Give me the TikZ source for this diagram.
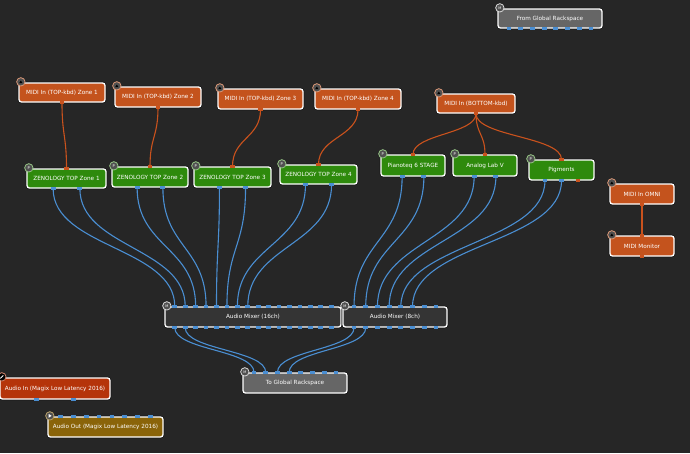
\documentclass[tikz,border=0pt]{standalone}
\usepackage{fontspec}
\setmainfont{DejaVu Sans}
\usetikzlibrary{calc}
\definecolor{bgC}{HTML}{262626}
\definecolor{midiC}{HTML}{C4531D}
\definecolor{plugC}{HTML}{2E8A0C}
\definecolor{grayC}{HTML}{666666}
\definecolor{mixC}{HTML}{343434}
\definecolor{ainC}{HTML}{B5340A}
\definecolor{aoutC}{HTML}{8A6409}
\definecolor{wireB}{HTML}{4A8ED2}
\definecolor{wireO}{HTML}{C9521D}
\definecolor{iconC}{HTML}{505050}

\newcommand\pinrow[4]{% node, north/south, n, colour
  \foreach \i in {1,...,#3}{%
    \pgfmathsetmacro\ff{\i/(#3+1)}%
    \fill[#4] ($(#1.#2 west)!\ff!(#1.#2 east)$) ++(-2.4,-1.2) rectangle ++(4.8,2.4);
  }}
\newcommand\wire[7]{% style, src, i, n, dst, j, m
  \pgfmathsetmacro\fa{#3/(#4+1)}%
  \pgfmathsetmacro\fb{#6/(#7+1)}%
  \draw[#1] let \p1=($(#2.south west)!\fa!(#2.south east)$),
                \p2=($(#5.north west)!\fb!(#5.north east)$),
                \n1={0.5*(\y1-\y2)} in
    (\p1) .. controls ($(\p1)-(0pt,\n1)$) and ($(\p2)+(0pt,\n1)$) .. (\p2);}
\newcommand\icon[3]{% node, fill, border
  \filldraw[fill=#2,draw=#3,line width=0.8pt] ([shift={(2.5,-0.5)}]#1.north west) circle (4.2pt);}

\begin{document}
\begin{tikzpicture}[x=1pt,y=-1pt,
  box/.style={rectangle, rounded corners=2.5pt, draw=white, line width=1.3pt,
    text=white, font=\fontsize{5.7}{6}\selectfont, inner sep=0pt, minimum height=20pt,
    preaction={draw=black!90, line width=2.8pt}},
  midibox/.style={box, fill=midiC},
  plugbox/.style={box, fill=plugC},
  graybox/.style={box, fill=grayC},
  mixbox/.style={box, fill=mixC},
  bwire/.style={draw=wireB, line width=1.1pt},
  owire/.style={draw=wireO, line width=1.1pt}]
\fill[bgC] (0,0) rectangle (690,453);
\useasboundingbox (0,0) rectangle (690,453);

% nodes
\node[graybox, minimum width=104pt, minimum height=19pt] (fromG) at (550,18.5) {From Global Rackspace};
\node[midibox, minimum width=86pt, minimum height=19pt] (m1) at (62,92.5) {MIDI In (TOP-kbd) Zone 1};
\node[midibox, minimum width=86pt] (m2) at (158,97) {MIDI In (TOP-kbd) Zone 2};
\node[midibox, minimum width=85pt] (m3) at (260.5,99) {MIDI In (TOP-kbd) Zone 3};
\node[midibox, minimum width=86pt] (m4) at (358,99) {MIDI In (TOP-kbd) Zone 4};
\node[midibox, minimum width=78pt, minimum height=19pt] (mb) at (476,103.5) {MIDI In (BOTTOM-kbd)};
\node[plugbox, minimum width=79pt, minimum height=19pt] (z1) at (66.5,178.5) {ZENOLOGY TOP Zone 1};
\node[plugbox, minimum width=76pt] (z2) at (150,177) {ZENOLOGY TOP Zone 2};
\node[plugbox, minimum width=77pt] (z3) at (232.5,177) {ZENOLOGY TOP Zone 3};
\node[plugbox, minimum width=77pt, minimum height=19pt] (z4) at (318.5,174.5) {ZENOLOGY TOP Zone 4};
\node[plugbox, minimum width=64pt, minimum height=21pt] (piano) at (413,165.5) {Pianoteq 6 STAGE};
\node[plugbox, minimum width=64pt, minimum height=21pt] (alab) at (485,165.5) {Analog Lab V};
\node[plugbox, minimum width=65pt] (pig) at (561.5,170) {Pigments};
\node[midibox, minimum width=64pt] (omni) at (642,194) {MIDI In OMNI};
\node[midibox, minimum width=64pt] (mon) at (642,246) {MIDI Monitor};
\node[mixbox, minimum width=176pt] (mx16) at (253,317) {Audio Mixer (16ch)};
\node[mixbox, minimum width=104pt] (mx8) at (395,317) {Audio Mixer (8ch)};
\node[graybox, minimum width=104pt] (toG) at (295,383) {To Global Rackspace};
\node[box, fill=ainC, minimum width=110pt, minimum height=21pt] (ain) at (55,388.5) {Audio In (Magix Low Latency 2016)};
\node[box, fill=aoutC, minimum width=115pt] (aout) at (105.5,427) {Audio Out (Magix Low Latency 2016)};

% MIDI wires
\wire{owire}{m1}{1}{1}{z1}{1}{1}
\wire{owire}{m2}{1}{1}{z2}{1}{1}
\wire{owire}{m3}{1}{1}{z3}{1}{1}
\wire{owire}{m4}{1}{1}{z4}{1}{1}
\wire{owire}{mb}{1}{1}{piano}{1}{1}
\wire{owire}{mb}{1}{1}{alab}{1}{1}
\wire{owire}{mb}{1}{1}{pig}{1}{1}
\wire{owire}{omni}{1}{1}{mon}{1}{1}

% audio wires
\wire{bwire}{z1}{1}{2}{mx16}{1}{16}
\wire{bwire}{z1}{2}{2}{mx16}{2}{16}
\wire{bwire}{z2}{1}{2}{mx16}{3}{16}
\wire{bwire}{z2}{2}{2}{mx16}{4}{16}
\wire{bwire}{z3}{1}{2}{mx16}{5}{16}
\wire{bwire}{z3}{2}{2}{mx16}{6}{16}
\wire{bwire}{z4}{1}{2}{mx16}{7}{16}
\wire{bwire}{z4}{2}{2}{mx16}{8}{16}
\wire{bwire}{piano}{1}{2}{mx8}{1}{8}
\wire{bwire}{piano}{2}{2}{mx8}{2}{8}
\wire{bwire}{alab}{1}{2}{mx8}{3}{8}
\wire{bwire}{alab}{2}{2}{mx8}{4}{8}
\wire{bwire}{pig}{1}{3}{mx8}{5}{8}
\wire{bwire}{pig}{2}{3}{mx8}{6}{8}
\wire{bwire}{mx16}{1}{16}{toG}{1}{8}
\wire{bwire}{mx16}{2}{16}{toG}{2}{8}
\wire{bwire}{mx8}{1}{8}{toG}{3}{8}
\wire{bwire}{mx8}{2}{8}{toG}{4}{8}

% pins
\pinrow{fromG}{south}{8}{wireB}
\foreach \n in {m1,m2,m3,m4,mb,omni}{\pinrow{\n}{south}{1}{wireO}}
\foreach \n in {z1,z2,z3,z4,piano,alab,pig,mon}{\pinrow{\n}{north}{1}{wireO}}
\foreach \n in {z1,z2,z3,z4,piano,alab}{\pinrow{\n}{south}{2}{wireB}}
\pinrow{mon}{south}{1}{wireO}
\foreach \i in {1,2}{\pgfmathsetmacro\ff{\i/4}\fill[wireB] ($(pig.south west)!\ff!(pig.south east)$) ++(-2.4,-1.2) rectangle ++(4.8,2.4);}
\fill[wireO] ($(pig.south west)!0.75!(pig.south east)$) ++(-2.4,-1.2) rectangle ++(4.8,2.4);
\pinrow{mx16}{north}{16}{wireB}
\pinrow{mx16}{south}{16}{wireB}
\pinrow{mx8}{north}{8}{wireB}
\pinrow{mx8}{south}{8}{wireB}
\pinrow{toG}{north}{8}{wireB}
\pinrow{ain}{south}{2}{wireB}
\pinrow{aout}{north}{8}{wireB}

% icons
\foreach \n in {m1,m2,m3,m4,mb,omni,mon}{\icon{\n}{iconC}{midiC!60!white}
  \fill[black] ([shift={(0.8,0.8)}]\n.north west) -- ++(3.4,0) -- ++(-1.7,-2.6) -- cycle;}
\foreach \n in {z1,z2,z3,z4,piano,alab,pig}{\icon{\n}{iconC}{plugC!50!white}
  \node[text=white, font=\fontsize{3.8}{4}\selectfont, inner sep=0pt] at ([shift={(2.5,-0.5)}]\n.north west) {P};}
\foreach \n in {fromG,toG,mx16,mx8}{\icon{\n}{iconC}{white!85!black}
  \node[text=white, font=\fontsize{3.4}{4}\selectfont, inner sep=0pt] at ([shift={(2.5,-0.5)}]\n.north west) {M};}
\icon{ain}{black}{ainC!60!white}
\draw[white, line width=0.8pt] ([shift={(1,1)}]ain.north west) -- ++(3,-3);
\icon{aout}{iconC}{aoutC!60!white}
\fill[white] ([shift={(1.3,1.4)}]aout.north west) -- ++(0,-3.8) -- ++(3,1.9) -- cycle;
\end{tikzpicture}
\end{document}
